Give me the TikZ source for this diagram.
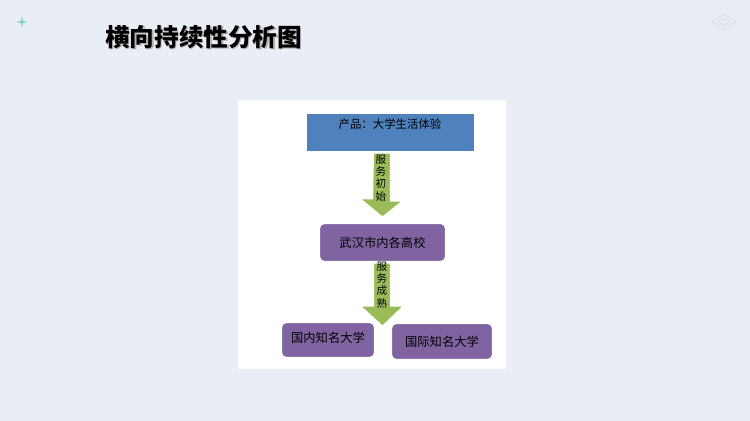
\documentclass[tikz,border=0pt]{standalone}
\usepackage{fontspec}
\newfontfamily\cjk{Noto Sans CJK SC}
\newfontfamily\cjkbold{Noto Sans CJK SC Black}
\usetikzlibrary{calc}
\definecolor{bgcol}{HTML}{E9EDF6}
\definecolor{boxblue}{HTML}{4F81BD}
\definecolor{boxpurple}{HTML}{8064A2}
\definecolor{arrowgreen}{HTML}{9BBB59}
\tikzset{
  bluebox/.style={fill=boxblue,draw=white,line width=1.2pt,minimum width=169*0.02cm,minimum height=39*0.02cm,inner sep=0pt,font=\cjk\fontsize{6.5}{8}\selectfont},
  purplebox/.style={fill=boxpurple,draw=white,line width=1.2pt,rounded corners=3pt,inner sep=0pt,font=\cjk\fontsize{7}{8}\selectfont},
  vlabel/.style={font=\cjk\fontsize{6}{7}\selectfont,align=center,inner sep=0pt}
}
\begin{document}
\begin{tikzpicture}[x=0.02cm,y=-0.02cm]
\fill[bgcol] (0,0) rectangle (750,421);
\useasboundingbox (0,0) rectangle (750,421);
% title
\node[font=\cjkbold\fontsize{14}{16}\selectfont,anchor=west,text=gray!60] (titles) at (100.5,38.5) {横向持续性分析图};
\node[font=\cjkbold\fontsize{14}{16}\selectfont,anchor=west] (title) at (99,37) {横向持续性分析图};
\fill[cyan!40!green!50] (22,16) -- (23,21) -- (28,22) -- (23,23) -- (22,28) -- (21,23) -- (16,22) -- (21,21) -- cycle;
\draw[gray!25,line width=0.6pt] (712,22) -- (724,14) -- (736,22) -- (724,30) -- cycle (718,22) -- (724,18) -- (730,22) -- (724,26) -- cycle;
% panel
\fill[white] (238,100) rectangle (506,369);
\node[bluebox] (prod) at (390.5,132.5) {};
\node[font=\cjk\fontsize{6.5}{8}\selectfont] (prodt) at (390,124) {产品：大学生活体验};
\node[purplebox,minimum width=127*0.02cm,minimum height=39*0.02cm] (wuhan) at (382.5,242.5) {武汉市内各高校};
\node[purplebox,minimum width=94*0.02cm,minimum height=36*0.02cm] (guonei) at (328,340) {\raisebox{3pt}{国内知名大学}};
\node[purplebox,minimum width=102*0.02cm,minimum height=37*0.02cm] (guoji) at (442,341.5) {国际知名大学};
% arrows
\fill[arrowgreen,draw=white,line width=0.6pt] ($(prod.south)+(-17,0)$) -- ++(17,0) -- ++(0,48) -- ++(12,0) -- ($(wuhan.north)+(0,-5)$) -- ++(-22,-18) -- ++(12,0) -- cycle;
\node[vlabel] (chushi) at (381,178) {服\\务\\初\\始};
\fill[arrowgreen,draw=white,line width=0.6pt] ($(wuhan.south)+(-9,0)$) -- ++(17,0) -- ++(0,43) -- ++(13,0) -- ($(wuhan.south)+(0,63)$) -- ++(-22,-20) -- ++(13,0) -- cycle;
\node[vlabel] (chengshu) at (382,285) {服\\务\\成\\熟};
\end{tikzpicture}
\end{document}
